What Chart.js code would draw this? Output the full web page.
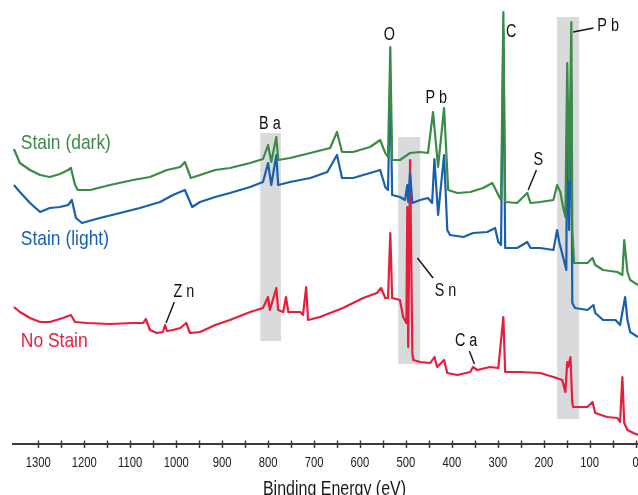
<!DOCTYPE html>
<html>
<head>
<meta charset="utf-8">
<script src="https://cdn.jsdelivr.net/npm/chart.js@4"></script>
<style>
    html, body { margin: 0; padding: 0; overflow: hidden; background: #fff; }
    #wrap { width: 638px; height: 504px; position: relative; }
</style>
</head>
<body>
<div id="wrap"><canvas id="xps"></canvas></div>
<script>
// XPS survey spectra, binding energy (eV) vs intensity (arbitrary units, offset per trace)
const seriesNames = ['Stain (dark)', 'Stain (light)', 'No Stain'];
const seriesColors = ['#3b8a46', '#1660ad', '#e61e3c'];

const darkBE = [1353, 1340, 1318, 1296, 1275, 1253, 1235, 1229, 1220, 1214, 1187, 1144, 1094, 1057, 1020, 991, 981, 968, 948, 915,
    883, 839, 811, 800, 793, 782, 778, 752, 708, 665, 650, 639, 615, 578, 556, 545, 539, 534, 530, 513,
    491, 469, 452, 441, 430, 417, 408, 388, 360, 332, 312, 301, 293, 288, 284, 258, 236, 229, 208, 179,
    171, 164, 158, 153, 149, 145, 140, 138, 134, 105, 94, 88, 71, 40, 29, 25, 18, 12, -5];
const darkCounts = [295, 281, 274, 269, 267, 270, 274, 276, 259, 254, 254, 259, 264, 267, 274, 277, 282, 266, 269, 274,
    276, 281, 285, 299, 282, 307, 284, 286, 291, 296, 312, 292, 292, 297, 304, 291, 287, 397, 284, 284,
    291, 292, 291, 332, 277, 336, 254, 251, 252, 256, 261, 251, 244, 432, 242, 241, 251, 241, 242, 244,
    259, 252, 237, 227, 381, 264, 422, 214, 181, 181, 186, 179, 174, 172, 169, 204, 172, 164, 159];

const lightBE = [1353, 1340, 1318, 1296, 1275, 1253, 1235, 1227, 1218, 1205, 1166, 1122, 1079, 1035, 1007, 981, 965, 948, 915, 883,
    839, 811, 800, 793, 782, 778, 752, 708, 671, 650, 639, 615, 578, 556, 545, 539, 534, 530, 513, 502,
    497, 495, 491, 486, 469, 452, 443, 438, 430, 417, 410, 404, 375, 354, 323, 306, 299, 293, 288, 284,
    258, 236, 229, 208, 179, 171, 166, 158, 151, 149, 145, 140, 138, 132, 105, 92, 88, 71, 44, 34,
    23, 18, 12, -5];
const lightCounts = [259, 252, 241, 232, 236, 237, 239, 244, 226, 221, 226, 231, 236, 242, 249, 254, 237, 242, 247, 251,
    257, 262, 281, 259, 289, 259, 262, 266, 272, 289, 266, 266, 271, 274, 257, 254, 364, 249, 247, 244,
    259, 242, 271, 241, 244, 246, 241, 285, 229, 289, 214, 209, 207, 211, 212, 216, 202, 199, 414, 196,
    196, 202, 196, 196, 194, 214, 201, 187, 174, 344, 214, 364, 141, 136, 134, 139, 131, 124, 124, 119,
    147, 124, 112, 107];

const bareBE = [1353, 1340, 1318, 1296, 1275, 1246, 1229, 1220, 1194, 1144, 1094, 1072, 1066, 1057, 1042, 1029, 1024, 1020, 1007, 991,
    978, 970, 948, 915, 883, 839, 811, 800, 796, 782, 778, 767, 761, 756, 730, 724, 717, 713, 687, 637,
    593, 563, 554, 545, 539, 534, 530, 513, 506, 499, 497, 495, 491, 486, 484, 469, 447, 438, 432, 417,
    410, 388, 360, 354, 345, 317, 299, 288, 284, 251, 208, 179, 160, 153, 149, 147, 142, 138, 136, 105,
    94, 88, 62, 40, 34, 29, 25, 18, 5, -5];
const bareCounts = [137, 132, 126, 122, 122, 126, 129, 122, 121, 120, 121, 121, 125, 114, 111, 112, 119, 113, 114, 116,
    121, 111, 112, 119, 124, 132, 136, 147, 134, 156, 134, 132, 147, 132, 132, 129, 157, 124, 127, 136,
    146, 151, 156, 146, 146, 211, 146, 144, 127, 121, 237, 97, 284, 91, 84, 82, 81, 87, 77, 84,
    71, 69, 72, 77, 74, 77, 76, 127, 72, 72, 71, 67, 64, 52, 82, 77, 87, 41, 37, 37,
    42, 31, 27, 26, 22, 67, 21, 14, 11, 9];

// shaded element windows (Ba, Sn, Pb 4f)
const bandHighBE = [817, 517, 171];
const bandLowBE = [772, 469, 123];
const bandBottom = [103, 80, 25];
const bandTop = [311, 307, 427];

// x axis
const xTickValues = [0, 50, 100, 150, 200, 250, 300, 350, 400, 450, 500, 550, 600, 650,
    700, 750, 800, 850, 900, 950, 1000, 1050, 1100, 1150, 1200, 1250, 1300];
const xTickLabels = ['0', '100', '200', '300', '400', '500', '600', '700', '800', '900', '1000', '1100', '1200', '1300'];
const xTitle = 'Binding Energy (eV)';

// peak annotations, anchored in data units (text centre)
const peakNames = ['Ba', 'O', 'Pb', 'C', 'S', 'Pb', 'Sn', 'Ca', 'Zn'];
const peakTextBE = [796, 536, 434, 271, 212, 60, 414, 369, 983];
const peakTextY = [322, 411, 348, 414, 286, 420, 155, 105, 154];
const leaderFromBE = [null, null, null, null, 216, 92, 441, 362, 1004];
const leaderFromY = [null, null, null, null, 274, 416, 166, 93, 142];
const leaderToBE = [null, null, null, null, 234, 136, 475, 351, 1022];
const leaderToY = [null, null, null, null, 254, 412, 186, 80, 121];

// trace names, left edge / baseline in data units
const seriesLabelBE = [1338, 1338, 1338];
const seriesLabelY = [295, 199, 97];

const FONT = '"Liberation Sans", Arial, sans-serif';
Chart.defaults.font.family = FONT;

const toPoints = (be, counts) => be.map((e, i) => ({ x: e, y: counts[i] }));

// no condensed face installed, so squeeze a regular one horizontally
function narrowText(ctx, text, x, y, size, squeeze, align, spacing = 0) {
    ctx.save();
    ctx.font = `${size}px ${FONT}`;
    ctx.letterSpacing = `${spacing}px`;
    ctx.textAlign = align;
    ctx.textBaseline = 'alphabetic';
    ctx.scale(squeeze, 1);
    const dx = align === 'center' ? spacing / 2 : 0;
    ctx.fillText(text, x / squeeze + dx, y);
    ctx.restore();
}

const spectraDecor = {
    id: 'spectraDecor',
    beforeDatasetsDraw(chart) {
        const { ctx, scales: { x, y } } = chart;
        ctx.save();
        ctx.fillStyle = '#d9dadc';
        bandHighBE.forEach((hi, i) => {
            const x0 = x.getPixelForValue(hi);
            const x1 = x.getPixelForValue(bandLowBE[i]);
            const y0 = y.getPixelForValue(bandTop[i]);
            const y1 = y.getPixelForValue(bandBottom[i]);
            ctx.fillRect(x0, y0, x1 - x0, y1 - y0);
        });
        ctx.restore();
    },
    afterDatasetsDraw(chart) {
        const { ctx, scales: { x, y } } = chart;
        ctx.save();

        seriesNames.forEach((name, i) => {
            ctx.fillStyle = seriesColors[i];
            narrowText(ctx, name, x.getPixelForValue(seriesLabelBE[i]), y.getPixelForValue(seriesLabelY[i]), 21, 0.83, 'left');
        });

        ctx.fillStyle = '#111';
        ctx.strokeStyle = '#111';
        ctx.lineWidth = 1.4;
        peakNames.forEach((name, i) => {
            const cy = y.getPixelForValue(peakTextY[i]) + 6.5;
            narrowText(ctx, name, x.getPixelForValue(peakTextBE[i]), cy, 18, 0.8, 'center', 5);
            if (leaderFromBE[i] === null) return;
            ctx.beginPath();
            ctx.moveTo(x.getPixelForValue(leaderFromBE[i]), y.getPixelForValue(leaderFromY[i]));
            ctx.lineTo(x.getPixelForValue(leaderToBE[i]), y.getPixelForValue(leaderToY[i]));
            ctx.stroke();
        });
        ctx.restore();
    },
    afterDraw(chart) {
        const { ctx, chartArea, scales: { x } } = chart;
        const axisY = chartArea.bottom;
        ctx.save();
        // tick marks cross the axis line
        ctx.strokeStyle = '#3a3a3a';
        ctx.lineWidth = 1.5;
        x.ticks.forEach(t => {
            const px = Math.round(x.getPixelForValue(t.value)) + 0.5;
            ctx.beginPath();
            ctx.moveTo(px, axisY - 3.5);
            ctx.lineTo(px, axisY + 4);
            ctx.stroke();
        });
        // tick labels and axis title in a narrow face
        ctx.fillStyle = '#1a1a1a';
        x.ticks.forEach(t => {
            const label = String(t.value);
            if (!xTickLabels.includes(label)) return;
            narrowText(ctx, label, x.getPixelForValue(t.value), axisY + 22.5, 15, 0.75, 'center');
        });
        narrowText(ctx, xTitle, (chartArea.left + chartArea.right) / 2 + 9, axisY + 50.5, 19.5, 0.82, 'center');
        ctx.restore();
    }
};

new Chart(document.getElementById('xps'), {
    type: 'line',
    data: {
        datasets: [
            { label: seriesNames[0], data: toPoints(darkBE, darkCounts), borderColor: seriesColors[0] },
            { label: seriesNames[1], data: toPoints(lightBE, lightCounts), borderColor: seriesColors[1] },
            { label: seriesNames[2], data: toPoints(bareBE, bareCounts), borderColor: seriesColors[2] },
        ],
    },
    options: {
        responsive: true,
        maintainAspectRatio: false,
        animation: false,
        layout: { padding: { left: 13, right: 0, top: 0, bottom: 0 } },
        plugins: {
            legend: { display: false },
            tooltip: { enabled: false },
        },
        elements: {
            point: { radius: 0 },
            line: { borderWidth: 2.2, tension: 0, borderJoinStyle: 'round', fill: false },
        },
        scales: {
            x: {
                type: 'linear',
                reverse: true,
                min: -5,
                max: 1355,
                grid: { display: false, drawTicks: false },
                border: { display: true, color: '#3a3a3a', width: 2 },
                afterBuildTicks: (s) => { s.ticks = xTickValues.map(v => ({ value: v })); },
                afterFit: (s) => { s.paddingLeft = 0; s.paddingRight = 0; s.height = 60; },
                ticks: { display: false, autoSkip: false },
                title: { display: false },
            },
            y: { display: false, min: 0, max: 444 },
        },
    },
    plugins: [spectraDecor],
});
</script>
</body>
</html>
